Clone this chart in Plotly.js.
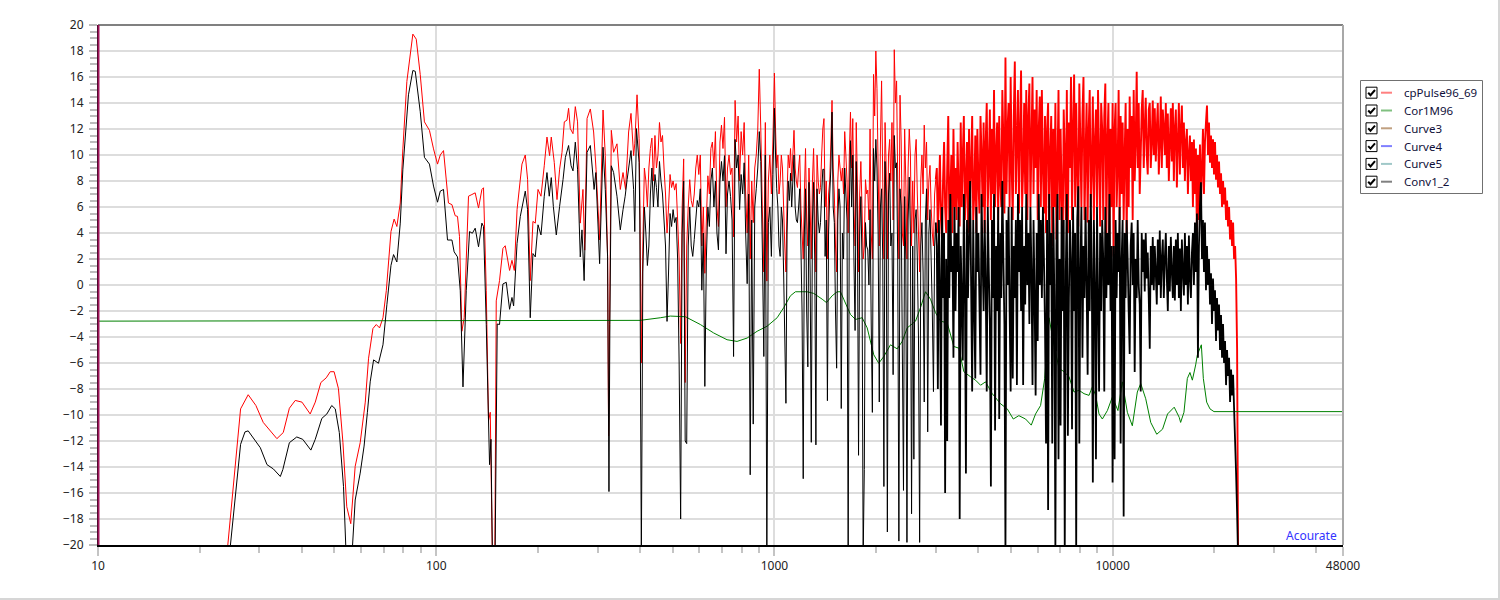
<!DOCTYPE html>
<html><head><meta charset="utf-8">
<script src="https://cdn.plot.ly/plotly-3.0.1.min.js"></script>
<style>
html,body{margin:0;padding:0;background:#fff;}
#chart{width:1498px;height:598px;border-right:2px solid #d6d6d6;border-bottom:2px solid #d6d6d6;}
</style></head><body><div id="chart"></div>
<script>
// ---------- DATA ----------
// cpPulse96_69 (red), low-frequency part: frequency (Hz) / level (dB)
const redLowF = [23.8,26.4,27.8,29.3,30.8,33.8,35.3,36.8,38.3,40.1,42.4,43.9,45.6,47.3,48.6,49.9,51.4,53.0,54.4,55.9,57.6,59.6,61.7,63.1,65.0,66.5,68.0,69.6,71.2,73.5,75.1,76.5,78.3,79.7,81.9,85.3,87.3,89.7,92.3,95.5,98.2,100.9,102.8,105.1,108.7,111.3,113.8,115.6,117.2,119.1,121.0,124.6,127.5,130.4,133.4,136.5,138.0,140.6,142.8,144.5,146.8,149.0,150.5,153.9,157.5,160.0,164.8,167.5,170.2,173.4,179.3,183.4,186.3,189.7,193.2,196.3,200.0,204.1,208.7,212.6,216.4,218.9,223.4,227.6,231.7,235.5,239.2,243.6,246.3,249.2,253.8,257.8,261.8,266.7,271.6,274.8,279.3,285.6,292.1,296.9,304.2,311.4,316.2,321.2,323.4,329.4,334.6,342.4,350.2,356.8,363.0,370.6,376.7,383.5,386.5,392.5,398.0];
const redLowV = [-22,-9.53,-8.44,-9.27,-10.57,-11.82,-11.35,-9.48,-8.88,-9.01,-9.92,-9.01,-7.5,-7.14,-6.67,-6.67,-7.97,-12.13,-17.06,-18.36,-13.95,-12.13,-9.01,-5.63,-3.35,-3.04,-3.3,-2.52,-0.44,4.11,5.07,4.5,6.31,10.47,15.66,19.3,18.91,16.18,12.55,11.9,10.47,9.3,10.0,10.34,6.31,6.18,5.33,5.28,3.72,-3.56,-2.52,6.83,6.96,7.09,5.92,7.35,7.48,-0.44,-10.44,-9.79,-22,-22,-1.22,0.34,2.81,3.02,1.12,1.9,1.12,5.79,9.3,10.0,8.13,0.34,4.89,4.76,7.35,6.83,9.17,11.38,9.95,11.38,9.43,6.57,8.91,10.21,12.55,12.68,13.59,12.03,11.64,13.72,12.55,4.76,7.35,2.68,12.81,13.54,11.77,8.91,3.46,13.46,9.95,2.16,-11.61,11.9,10.21,10.86,7.35,8.65,7.35,11.77,13.2,9.95,10.86,14.63,11.25];

// Conv1_2 (black), low-frequency part
const blkLowF = [24.2,26.4,27.2,27.8,30.2,31.6,33.0,34.6,35.2,36.8,38.7,40.3,42.6,43.9,45.9,47.5,49.1,50.3,51.7,53.2,54.2,56.3,57.6,59.6,61.2,62.6,63.8,65.3,67.5,69.6,71.5,73.5,74.8,76.5,78.3,79.7,82.8,85.3,86.7,89.7,92.3,95.5,98.2,100.9,102.8,105.1,108.0,111.3,113.0,115.6,117.8,120.0,122.7,125.5,127.9,130.4,133.4,136.5,138.0,140.6,143.8,145.2,146.8,149.2,151.5,153.9,157.5,161.1,164.8,167.5,169.4,173.4,177.3,183.4,186.3,189.7,193.2,196.3,200.0,204.1,208.7,212.6,215.9,218.9,222.0,226.5,231.7,237.2,241.0,246.3,250.5,253.8,257.8,261.8,266.7,269.8,273.8,279.3,285.6,293.0,296.5,304.2,311.4,316.2,321.2,324.2,326.2,329.4,334.6,342.4,350.2,356.8,362.0,367.0,376.7,383.5,386.5,391.0,398.0];
const blkLowV = [-22,-12.26,-11.3,-11.22,-12.52,-13.82,-14.15,-14.73,-14.2,-12.13,-11.69,-11.87,-12.7,-11.87,-10.26,-9.92,-9.27,-9.53,-11.35,-15.5,-21,-21,-16.54,-14.47,-12.39,-9.79,-7.45,-5.76,-6.02,-4.6,-1.48,1.51,2.34,1.77,4.76,8.91,14.63,16.5,16.44,13.33,9.82,9.3,7.61,6.37,7.22,7.35,3.46,3.46,2.55,2.16,-0.44,-7.84,-0.44,4.11,3.98,4.37,2.94,4.76,4.5,-3.04,-13.82,-11.87,-22,-22,-3.0,-3.04,0.08,0.21,-1.87,-0.96,-1.61,3.2,5.28,7.22,5.79,-2.52,2.42,2.16,4.63,3.85,6.83,8.65,6.83,8.26,6.05,3.85,6.05,8.13,9.82,10.73,9.17,8.78,10.99,8.91,2.16,4.24,0.34,10.21,10.73,7.35,8.65,1.64,10.6,7.35,2.16,-15.89,-3.04,9.17,8.65,6.83,4.24,5.79,6.83,8.13,10.34,7.35,4.11,12.03,9.43];

const bandEdges = [400, 1000, 3000, 10000, 23500];   // Hz
const redA = [7,-6,3,9,8,6,9,10.5,11.3,8, 11.5,9,10,12.5,11,11.5,9,7,4,6, 8.5,7.5,8,7.3,7.8,5,2,-4.5,6,9.7, -7.5,3,6,8.1,6.5,6,7,9,10,8.5, 10,3,6,0.9,5,8.4,7,10.5,11,9, 11.8,6,4.5,11,12.3,10.5,12.9,6,9,10, 8.5,9,3.7,14.2,11,13,8,11.8,10,12.5, 7,4,10,2,8,4.8,9,10,12,16.6, 12,6,1,12.5,0.3,8,10,7,11,16.3];
const blkA = [5,-21,1,6,4,1.5,3,7,9,6, 8.5,7.5,6,9.5,8,7,5,3,-2.8,1, 5.5,4.5,5.8,4.8,5.2,2,-6,-18,4,8, -12,-12.2,3,6,3,2.2,3.5,5,6.5,6, 7.4,-0.4,4,-7.8,2,6,4.5,8,9,6, 8,4,2.7,8,9.5,8,9.95,2.4,7,8, 6.8,5,-5.5,11.2,9,10,5.8,8.5,7,9.4, 4,0.1,7,-14.6,5,-10.7,6,7.4,9,11.8, 9.5,3,-5.5,10,-21,4.8,6,2.2,8.5,13.6];
const redB = [12,9,10,7,8,10,9,6,3,1, 7,10,9,10.5,8,10,11.9,9,8,7.5, 9,10,6,4,2,7,10.5,5,3,9, 6,2,8,10.5,6,1,10,8,7,7.5, 10,12,12.8,6,8,2,7,8,11,14.2, 9,7,3,1,8,10,9,8,9,7, 11.8,10,8,4,10,13.3,9,12.8,6,3, 12.5,8,1,7,9.5,6,2,3,8.1,7, 7.3,5,12,4,2,16.2,13,18,15.1,9, 3,11,15.7,8,2,12.5,9,2,10,11.2, 8,12.5,5,18.1,14,15.7,8,2,14.6,11, 4,3,12,8,2,9,12,10,3,8, 4,10,11.2,7,4,1,8,10,7,12.3, 9,11,5,8,9.2,6,4,3,7,8.1];
const blkB = [10,7.4,6,3,2.2,6,5,1,-4,-9.1, 4,8,6.5,8.6,6,8,10,6,5,4.8, 6,7.4,3,-2,-14.9,4,7.4,-2,-6.3,7.9, 1,-12.1,5,7.9,2,-12.3,7.4,5,4,4.8, 7,8.9,8.9,2.2,5,-8.9,4,7,9,13.3, 6,4.8,-2,-6.4,5,7.4,6,-9.5,4,2, 9,7,5,-20.5,6,11.1,6,10,2,-3.5, 9.5,5,-13.1,4,6.8,2,-21,-14.2,4.8,3, 2.7,0,5.8,-3,-9.8,10.5,8,11.2,9,4, -9,6,7.4,2,-15.5,9.5,6,-19,7,8.6, 3,4,-6.9,11.5,9,9.4,2,-19.7,7.4,6, -5,-15.8,6.8,2,-19.8,5,8.3,4,-17.6,3, -13.4,5,5.8,2,-4,-19.8,3,4.8,1,-9, 5,7.4,-11.3,4,5.8,2,-2,-8.2,3,4.8];
const redC = [9,4,7,10,5,3.5,8,11,6,4, 9,13,5,7,10,4,12,6,9,5, 11,7,4.5,12.5,6,10,13,5,8,11, 4,12,6,9,13,5,7,11.5,4,12, 8,5.5,13,10,6,12.5,4,11,14,6, 9,13.5,5,12,7,15,6,10,12.5,5, 13,8,6,15,11,5.5,17.5,7,12,14, 6,16,9,5,13,17.2,7,11,15,5.5, 12,16.5,6,9,14,7,15,5,13,15.5, 6,11,16,7,13.5,9,15,5,12,14.5, 6,15,9,5.5,13,4,12,14,5,10, 13,3,12,6,14,3.5,9,15,5,12, 7,2.7,13.5,10,5,15,4,12.5,9,16, 5,12,16.2,6,14,9,4.5,15.5,11,6, 13,16,5,10,14,4.8,12,15,6,9, 14.5,5,11,13.5,6,15,10,4.5,14,12, 5,13,15.5,4,11,14,3,12,6,14];
const blkC = [3,-8,5,0,-10.8,6,-1,4,-16,2, -12,5,-1,7,1,3,-5.6,6,-2,4, 1,6,-18,3,-1,-5.8,7,0,-14.5,5, -1,4,8,0,-8.2,5,-2,-7.2,6,1, 4,-1.5,-6.9,7,2,-2,5,0,-8.2,6, 1,-3,-15.5,5,-1,7,-11.2,3,-2,6, -10.3,4,-1,8,2,-3,-20.5,5,0,6, -2,-8.2,6,-7.2,3,-1,5,-7.7,7,1, 5,-2,6,-7.7,3,-1.5,7,0,4,-3, 6,1,-7.7,5,-1,-8.5,4,-4.3,7,0, 5,-1,6,2,-3,-12.2,5,-17.3,7,0, 4,-12.2,6,-1,-20.5,3,7,-13.4,2,-10.8, 6,-2,5,-20.5,1,7,-11.6,-1,5,2, -11.1,6,-2,4,-20.5,5,7.6,-12.2,1,6, -5.6,3,-1,6,0,-6.9,5,-2,7,1, -15.2,5,0,-13.4,6,-1,-8.2,4,-2,5, 2,-8.2,6,-1,4,0,7,-2,3,-15.2];
const redD = [2.2,12,14,6,9,15,5,13,7,12.5, 5,10,14,3.5,12,6,14.5,9,13,5, 15,8,11,16.4,9,14,7,10,13.5,15, 9,12,14.4,10,8.5,13.5,14,9,11,14.2, 10,13.6,9.5,12,14,8.5,11,14.5,9,13.5, 12,10,14,9,13.2,8,11,13.6,9.5,14, 8,12,13.5,7.5,11,14,8.5,12,13.8,9, 12.5,8,11,12,7,10,11.5,8,11,6, 11.2,7,10.5,3.7,10,5,10.8,6,9,12, 7,11,12.5,13.8,10,12.5,9.4,11.5,9,11.2, 8.5,11,8.1,10,7.5,9.5,7,8.6,6,8, 6.2,7.5,5,6.5,4.5,6,3.5,5,3,4.8, 2,3,0.5,-4.9,-21];
const blkD = [3,-13.4,5,-1,4,1,6,-12.2,2,5, -17.8,4,-1,5,2,-2,-5.3,3,4.8,0, 4,-6.7,2,-1,5,0,-1.5,-8.2,4,1, 3.5,-0.5,4,0.5,2.5,-1,-4.9,3,0,3.7, -0.4,3,1,-1.5,3.5,0,4.2,-1,2,3.5, -1,2,4,0.5,-2,3,-0.5,3.7,1,-1, 3,-1.2,3.5,0,4,-1,2.8,-2,3.5,1, -0.8,4,0,3,-1.5,3.8,0.5,-1,2.5,4, 0,4.8,1,5.5,-5.6,3,6,7.9,2,5, 1,4.8,-0.4,3,0,2,-1.5,0.9,-3,0.5, -2,-0.4,-4.3,-1,-3.5,-1.5,-5,-2.3,-5.6,-3, -6,-4.3,-7.7,-5,-7,-5.6,-9,-6.5,-8.5,-6.9, -9.5,-12,-14.5,-17.5,-21];

// Cor1M96 (green)
const grnF = [10,400.9,459.9,492.4,545.4,604.1,661.4,724.4,775.5,830.4,888.9,951.5,1018.6,1065.5,1115.3,1153.9,1249.7,1307.3,1384.1,1425.2,1481.7,1533.1,1568,1603,1678,1736,1818,1881,1967,2035,2106,2204,2307,2387,2470,2614,2704,2798,2894,2995,3099,3243,3393,3511,3632,3801,3933,4070,4210,4407,4664,4882,5085,5282,5529,5748,5918,6124,6298,6486,6711,6943,7184,7433,7690,7956,8232,8517,8713,8912,9116,9326,9649,9983,10370,10684,11055,11438,11834,12110,12529,12963,13505,14051,14538,15211,15738,15892,16255,16634,16931,17211,17603,17807,18298,18548,18972,19405,19940,48000];
const grnV = [-2.78,-2.72,-2.52,-2.39,-2.44,-3.04,-3.69,-4.21,-4.34,-4.08,-3.56,-3.17,-2.52,-1.74,-0.83,-0.52,-0.52,-0.65,-1.09,-1.35,-0.83,-0.52,-0.52,-1.09,-2.26,-2.65,-2.52,-3.3,-5.37,-6.02,-5.5,-4.6,-4.91,-4.34,-3.3,-2.78,-1.74,-0.52,-1.09,-2.13,-2.78,-2.91,-4.73,-4.86,-6.67,-7.06,-7.32,-7.71,-7.45,-8.36,-9.14,-9.53,-10.31,-10.05,-10.31,-10.78,-9.92,-9.27,-7.19,-2.52,-4.6,-6.41,-6.67,-7.06,-8.23,-8.1,-8.36,-8.49,-7.84,-8.49,-9.92,-10.31,-9.66,-8.62,-9.66,-7.45,-9.79,-10.83,-8.23,-7.58,-8.75,-10.57,-11.48,-11.09,-9.92,-9.4,-10.18,-10.57,-9.79,-7.19,-6.73,-7.32,-6.15,-5.37,-4.6,-7.19,-9.01,-9.53,-9.74,-9.74];

// Legend and axis labels
const legendNames = ['cpPulse96_69','Cor1M96','Curve3','Curve4','Curve5','Conv1_2'];
const legendSwatch = ['#ff8080','#80c080','#c0a080','#8080ff','#a0c8c8','#808080'];
const xTickVals = [10,100,1000,10000,48000];
const xTickText = ['10','100','1000','10000','48000'];
const brandText = 'Acourate';

// ---------- BUILD ----------
function bandGrid(f0, f1, n, includeStart){
  const out=[];
  for(let i=0;i<n;i++){
    const t = includeStart ? i/(n-1) : (i+1)/n;
    out.push(f0*Math.pow(f1/f0,t));
  }
  return out;
}
const fA = bandGrid(bandEdges[0],bandEdges[1],redA.length,true);
const fB = bandGrid(bandEdges[1],bandEdges[2],redB.length,false);
const fC = bandGrid(bandEdges[2],bandEdges[3],redC.length,false);
const fD = bandGrid(bandEdges[3],bandEdges[4],redD.length,false);
const lastB = fB[fB.length-1];
const red1X = redLowF.concat(fA,fB), red1Y = redLowV.concat(redA,redB);
const red2X = [lastB].concat(fC,fD), red2Y = [redB[redB.length-1]].concat(redC,redD);
const blk1X = blkLowF.concat(fA,fB), blk1Y = blkLowV.concat(blkA,blkB);
const blk2X = [lastB].concat(fC,fD), blk2Y = [blkB[blkB.length-1]].concat(blkC,blkD);

const minorX=[];
[10,100,1000,10000].forEach(d=>{for(let k=2;k<=9;k++){const v=d*k; if(v<48000) minorX.push(v);}});

const FONT = 'Segoe UI, Noto Sans, Open Sans, sans-serif';
const PL=98, PT=25, PW=1245, PH=520;
const px = x => (x-PL)/PW;
const py = y => (PT+PH-y)/PH;

const traces = [
  {x:red1X,y:red1Y,mode:'lines',line:{color:'#ff0000',width:1,simplify:false},hoverinfo:'skip'},
  {x:red2X,y:red2Y,mode:'lines',line:{color:'#ff0000',width:1.9,simplify:false},hoverinfo:'skip'},
  {x:grnF,y:grnV,mode:'lines',line:{color:'#008000',width:1,simplify:false},hoverinfo:'skip'},
  {x:[],y:[],mode:'lines',line:{color:'#a07040',width:1}},
  {x:[],y:[],mode:'lines',line:{color:'#0000ff',width:1}},
  {x:[],y:[],mode:'lines',line:{color:'#60a0a0',width:1}},
  {x:blk1X,y:blk1Y,mode:'lines',line:{color:'#000000',width:1,simplify:false},hoverinfo:'skip'},
  {x:blk2X,y:blk2Y,mode:'lines',line:{color:'#000000',width:1.8,simplify:false},hoverinfo:'skip'}
];

const shapes = [
  {type:'line',xref:'paper',yref:'paper',x0:0,x1:1,y0:1,y1:1,line:{color:'#808080',width:2}},
  {type:'line',xref:'paper',yref:'paper',x0:1,x1:1,y0:0,y1:1,line:{color:'#a8a8a8',width:2}},
  {type:'line',xref:'paper',yref:'paper',x0:px(98.5),x1:px(98.5),y0:0,y1:1,line:{color:'#a0145a',width:2}},
  {type:'rect',xref:'paper',yref:'paper',x0:px(1360.5),x1:px(1482.5),y0:py(80.5),y1:py(193.5),line:{color:'#707070',width:1},fillcolor:'#ffffff'}
];
const annotations = [
  {xref:'paper',yref:'paper',x:px(1339),y:py(535),text:brandText,showarrow:false,xanchor:'right',yanchor:'middle',font:{family:FONT,size:12,color:'#3333ff'}}
];
legendNames.forEach((name,i)=>{
  const cy = 92.7 + i*17.8;
  const bx = 1366, by = cy-5.5;
  shapes.push({type:'rect',xref:'paper',yref:'paper',x0:px(bx),x1:px(bx+11),y0:py(by),y1:py(by+11),line:{color:'#000',width:1},fillcolor:'#fff'});
  shapes.push({type:'path',xref:'paper',yref:'paper',
    path:`M ${px(bx+2.2)} ${py(by+5.5)} L ${px(bx+4.5)} ${py(by+8)} L ${px(bx+9)} ${py(by+2.8)}`,
    line:{color:'#000',width:2}});
  shapes.push({type:'line',xref:'paper',yref:'paper',x0:px(1381),x1:px(1392),y0:py(cy),y1:py(cy),line:{color:legendSwatch[i],width:2}});
  annotations.push({xref:'paper',yref:'paper',x:px(1402),y:py(cy),text:name,showarrow:false,xanchor:'left',yanchor:'middle',font:{family:FONT,size:11.5,color:'#10103a'}});
});

const layout = {
  width:1498,height:598,
  margin:{l:PL,r:1498-PL-PW,t:PT,b:598-PT-PH,pad:0},
  paper_bgcolor:'#ffffff',plot_bgcolor:'#ffffff',
  showlegend:false,
  font:{family:FONT,size:12,color:'#222'},
  xaxis:{type:'log',range:[1,Math.log10(48000)],tickmode:'array',tickvals:xTickVals,ticktext:xTickText,
    ticks:'outside',ticklen:9,tickwidth:2,tickcolor:'#c4c4c4',
    showgrid:true,gridcolor:'#dddddd',gridwidth:2,
    showline:true,linecolor:'#000',linewidth:2,zeroline:false,
    tickfont:{family:FONT,size:12,color:'#222'},
    minor:{tickmode:'array',tickvals:minorX,ticklen:6,tickwidth:2,tickcolor:'#c4c4c4',showgrid:false}},
  yaxis:{range:[-20,20],tickmode:'linear',tick0:-20,dtick:2,
    ticks:'outside',ticklen:8,tickwidth:2,tickcolor:'#bcbcbc',ticklabelstandoff:3,
    showgrid:true,gridcolor:'#dddddd',gridwidth:2,
    showline:true,linecolor:'#000',linewidth:1,zeroline:false,
    tickfont:{family:FONT,size:12,color:'#222'},
    minor:{dtick:0.5,ticklen:7,tickwidth:2,tickcolor:'#bcbcbc',showgrid:false}},
  shapes:shapes,annotations:annotations
};
Plotly.newPlot('chart',traces,layout,{displayModeBar:false,staticPlot:true});
</script></body></html>
